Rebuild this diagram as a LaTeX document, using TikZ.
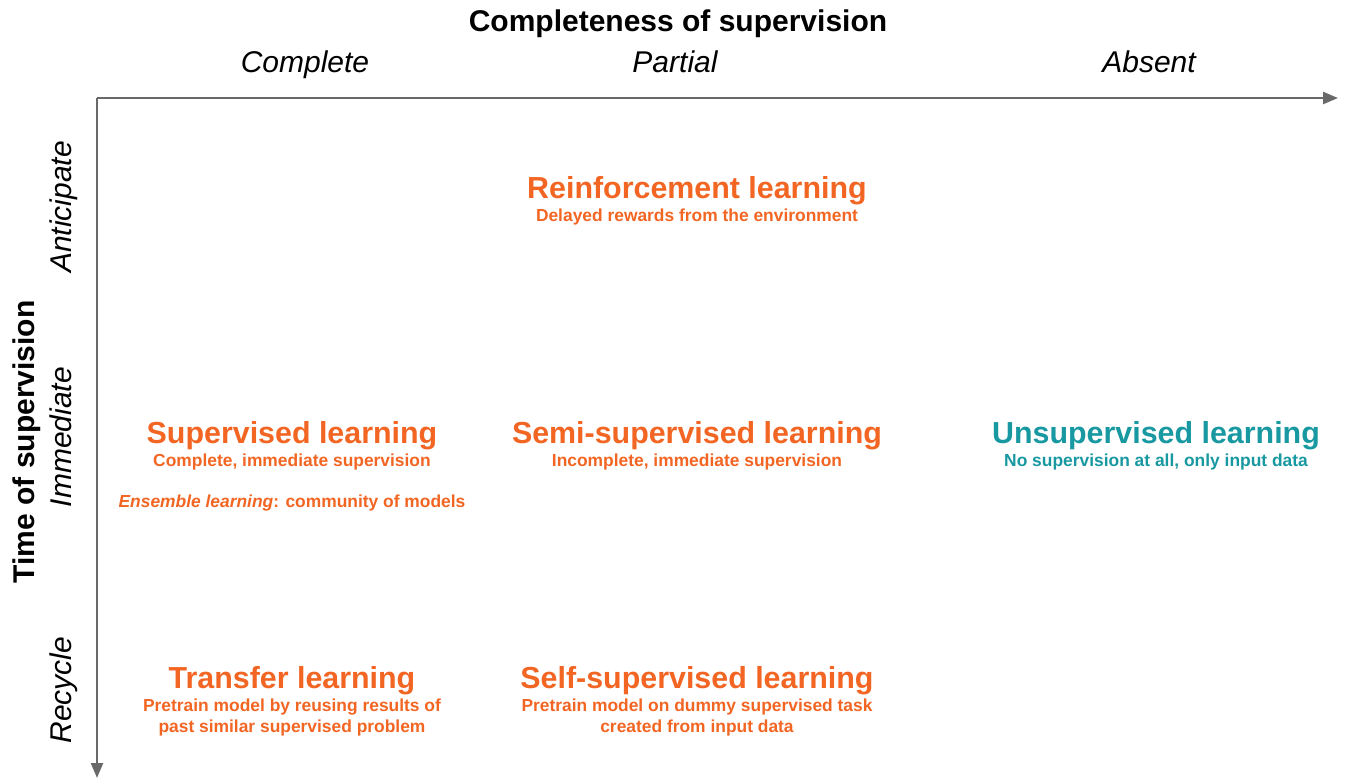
\documentclass[tikz,border=0pt]{standalone}
\usepackage{fontspec}
\setmainfont{Liberation Sans}
\usepackage{xcolor}
\usetikzlibrary{arrows.meta}

\definecolor{mlorange}{RGB}{242,101,34}
\definecolor{mlteal}{RGB}{24,152,160}
\definecolor{axisgray}{RGB}{105,105,105}

\tikzset{
    axistitle/.style={font=\fontsize{15}{18}\selectfont\bfseries},
    axisvalue/.style={font=\fontsize{15}{18}\selectfont\itshape, text height=1.5ex, text depth=.3ex},
    method/.style={font=\fontsize{15.2}{18}\selectfont\bfseries, text=mlorange},
    methodnote/.style={font=\fontsize{8.7}{10.5}\selectfont\bfseries, text=mlorange, align=center},
}

\begin{document}
\begin{tikzpicture}[x=0.5pt, y=-0.5pt]
    % Fix the page size
    \useasboundingbox (0,0) rectangle (1345,783);

    % Draw the axes
    \coordinate (origin) at (97,98);
    \coordinate (xend) at (1338,98);
    \coordinate (yend) at (97,778);
    \draw[axisgray, line width=1.2pt, -{Triangle[length=7.5pt, width=6pt]}] (origin) -- (xend);
    \draw[axisgray, line width=1.2pt, -{Triangle[length=7.5pt, width=6pt]}] (origin) -- (yend);

    % Label the axes
    \node[axistitle] (completeness) at (678,24) {Completeness of supervision};
    \node[axisvalue] (complete) at (305,66) {Complete};
    \node[axisvalue] (partial) at (675,66) {Partial};
    \node[axisvalue] (absent) at (1149,66) {Absent};

    \node[axistitle, rotate=90] (time) at (27,442) {Time of supervision};
    \node[axisvalue, rotate=90] (anticipate) at (65,207) {Anticipate};
    \node[axisvalue, rotate=90] (immediate) at (65,437) {Immediate};
    \node[axisvalue, rotate=90] (recycle) at (65,690) {Recycle};

    % Anticipate row
    \node[method] (reinforcement) at (697,191) {Reinforcement learning};
    \node[methodnote] (reinforcementnote) at (697,217) {Delayed rewards from the environment};

    % Immediate row
    \node[method] (supervised) at (292,436) {Supervised learning};
    \node[methodnote] (supervisednote) at (292,462) {Complete, immediate supervision};
    \node[methodnote] (ensemble) at (292,503) {\textit{Ensemble learning}: community of models};

    \node[method] (semisupervised) at (697,436) {Semi-supervised learning};
    \node[methodnote] (semisupervisednote) at (697,462) {Incomplete, immediate supervision};

    \node[method, text=mlteal] (unsupervised) at (1156,436) {Unsupervised learning};
    \node[methodnote, text=mlteal] (unsupervisednote) at (1156,462) {No supervision at all, only input data};

    % Recycle row
    \node[method] (transfer) at (292,681) {Transfer learning};
    \node[methodnote] (transfernote) at (292,717) {Pretrain model by reusing results of\\past similar supervised problem};

    \node[method] (selfsupervised) at (697,681) {Self-supervised learning};
    \node[methodnote] (selfsupervisednote) at (697,717) {Pretrain model on dummy supervised task\\created from input data};
\end{tikzpicture}
\end{document}
